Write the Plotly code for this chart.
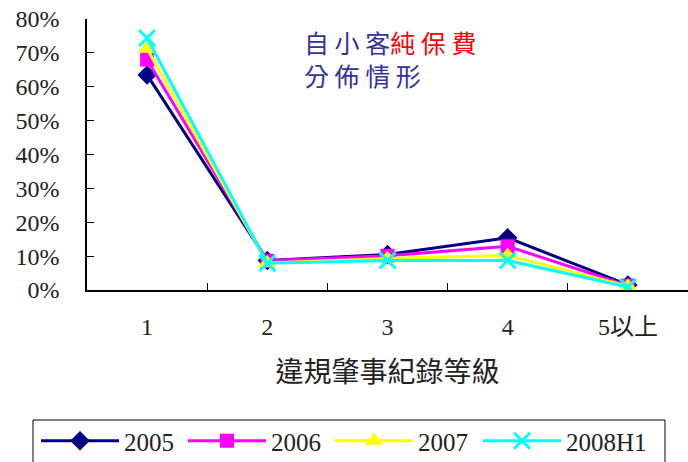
import plotly.graph_objects as go

categories = ["1", "2", "3", "4", "5以上"]
series_names = ["2005", "2006", "2007", "2008H1"]
v2005 = [0.635, 0.087, 0.105, 0.154, 0.015]
v2006 = [0.680, 0.086, 0.101, 0.129, 0.013]
v2007 = [0.712, 0.080, 0.093, 0.102, 0.011]
v2008 = [0.744, 0.079, 0.087, 0.087, 0.009]
values = [v2005, v2006, v2007, v2008]
colors = ["#000080", "#FF00FF", "#FFFF00", "#00FFFF"]
symbols = ["diamond", "square", "triangle-up", "x-thin-open"]
sizes = [15, 14, 16, 16]
legend_ids = ["legend", "legend", "legend", "legend2"]

W, H = 688, 462
ml, mt, mr = 87, 19, 0
mb = H - 290
ph = H - mt - mb
pw = W - ml - mr


def px_x(x):
    return (x - ml) / pw


def px_y(y):
    return (H - mb - y) / ph


fig = go.Figure()
for name, vals, c, s, sz, lg in zip(series_names, values, colors, symbols, sizes, legend_ids):
    marker = dict(symbol=s, size=sz, color=c)
    if s.startswith("x-thin"):
        marker["line"] = dict(color=c, width=3)
    fig.add_trace(go.Scatter(x=categories, y=vals, name=name, mode="lines+markers", legend=lg,
                             line=dict(color=c, width=3), marker=marker))

serif = "Liberation Serif, serif"
leg_common = dict(orientation="h", xanchor="left", yanchor="top", borderwidth=0,
                  bgcolor="rgba(0,0,0,0)", font=dict(size=25, family=serif),
                  itemwidth=78)
fig.update_layout(
    width=W, height=H,
    margin=dict(l=ml, r=mr, t=mt, b=mb, autoexpand=False),
    paper_bgcolor="white", plot_bgcolor="white",
    font=dict(family=serif, color="#222222", size=24),
    xaxis=dict(type="category", range=[-0.5, 4.5], showline=True, linecolor="black", linewidth=1.5,
               ticks="inside", tickson="boundaries", ticklen=7, tickcolor="black",
               showgrid=False, zeroline=False, automargin=False,
               tickfont=dict(size=24, family="Liberation Serif, Noto Sans CJK TC"),
               ticklabelstandoff=14,
               title=dict(text="違規肇事紀錄等級", font=dict(size=28, family="Noto Sans CJK TC"), standoff=24)),
    yaxis=dict(range=[0, 0.8], dtick=0.1, tickformat=".0%", showline=True, linecolor="black", linewidth=1.5,
               ticks="inside", ticklen=7, tickcolor="black", showgrid=False, zeroline=False, automargin=False,
               tickfont=dict(size=24, family=serif), ticklabelstandoff=21),
    legend=dict(leg_common, x=px_x(36), y=px_y(418), entrywidth=54, entrywidthmode="pixels"),
    legend2=dict(leg_common, x=px_x(478), y=px_y(418)),
    showlegend=True,
)
# legend frame
fig.add_shape(type="rect", xref="paper", yref="paper", x0=px_x(33), x1=px_x(665), y0=px_y(470), y1=px_y(420),
              line=dict(color="black", width=1), fillcolor="rgba(0,0,0,0)")
fig.add_annotation(xref="paper", yref="paper", x=px_x(302), y=px_y(22),
                   xanchor="left", yanchor="top", showarrow=False, align="left",
                   text="自 小 客<span style='color:#FF0000'>純 保 費</span><br>分 佈 情 形",
                   font=dict(size=25, color="#333399", family="Noto Sans CJK TC"))
fig.write_html("out.html", config={"displayModeBar": False},
               post_script="document.body.style.margin='0px';")
